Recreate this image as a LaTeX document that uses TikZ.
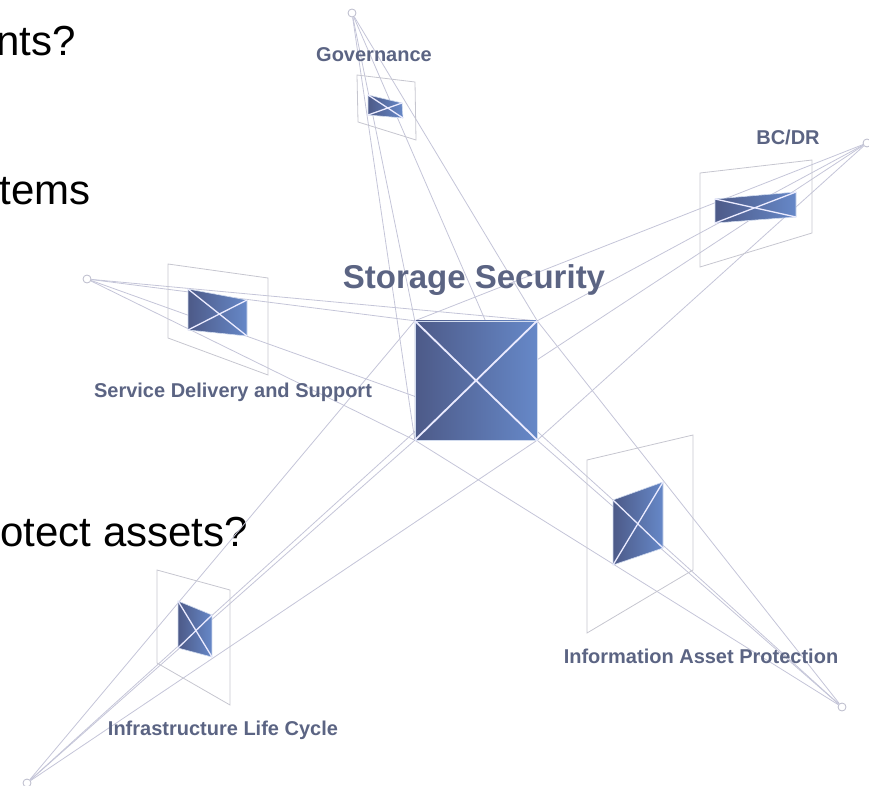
\documentclass[tikz,border=0pt]{standalone}
\usepackage{fontspec}
\setmainfont{Liberation Sans}
\usepackage{xcolor}
\usepackage{tikz}

\definecolor{labelgray}{HTML}{5B6483}
\definecolor{raygray}{HTML}{C4C5D8}
\definecolor{panegray}{HTML}{C6C6CF}
\definecolor{boxdark}{HTML}{4D5A88}
\definecolor{boxlight}{HTML}{6688C8}

\begin{document}
\begin{tikzpicture}[x=1pt, y=-1pt,
  ray/.style={draw=raygray, line width=0.8pt},
  pane/.style={draw=panegray, line width=0.8pt},
  hub/.style={circle, draw=raygray!85!gray, fill=white, line width=0.8pt,
              minimum size=8pt, inner sep=0pt},
  icon/.style={left color=boxdark, right color=boxlight,
               draw=white!70!boxlight, line width=0.6pt},
  cross/.style={draw=white!92!blue, line width=1.3pt},
  lbl/.style={anchor=base, inner sep=0pt, text=labelgray,
              font=\fontsize{20}{24}\selectfont\bfseries},
  bullet/.style={anchor=base east, inner sep=0pt,
                 font=\fontsize{42}{50}\selectfont}]

\useasboundingbox (0,0) rectangle (869,786);
\clip (0,0) rectangle (869,786);

% Slide text cut at the left edge
\node[bullet] (q1) at (76,56) {nts?};
\node[bullet] (q2) at (91,205) {tems};
\node[bullet] (q3) at (248,546) {otect assets?};

% Vanishing points
\node[hub] (gov)  at (352,13)  {};
\node[hub] (bcdr) at (867,143) {};
\node[hub] (sds)  at (87,279)  {};
\node[hub] (iap)  at (842,707) {};
\node[hub] (ilc)  at (27,783)  {};

% Centre box (drawn later, on top of the rays)
\node[minimum width=122pt, minimum height=119pt, inner sep=0pt] (core) at (476,380.5) {};

% Rays to the corners of the centre box
\foreach \v in {gov,bcdr,sds,iap,ilc}
  \foreach \c in {north west,north east,south west,south east}
    \draw[ray] (\v) -- (core.\c);

% Panes
\draw[pane] (357,75) -- (415,82) -- (416,140) -- (358,122) -- cycle;
\draw[pane] (700,173) -- (812,160) -- (812,233) -- (700,267) -- cycle;
\draw[pane] (168,264) -- (268,278) -- (268,375) -- (168,338) -- cycle;
\draw[pane] (587,460) -- (693,435) -- (693,570) -- (587,633) -- cycle;
\draw[pane] (157,570) -- (230,590) -- (230,705) -- (157,663) -- cycle;

% Small boxes seen in the panes
\shadedraw[icon] (368,95) -- (402,103) -- (403,118) -- (368,115) -- cycle;
\draw[cross] (368,95) -- (403,118) (402,103) -- (368,115);
\shadedraw[icon] (715,199) -- (796,192) -- (796,217) -- (715,223) -- cycle;
\draw[cross] (715,199) -- (796,217) (796,192) -- (715,223);
\shadedraw[icon] (188,289) -- (247,300) -- (247,336) -- (188,330) -- cycle;
\draw[cross] (188,289) -- (247,336) (247,300) -- (188,330);
\shadedraw[icon] (613,500) -- (663,482) -- (663,548) -- (613,565) -- cycle;
\draw[cross] (613,500) -- (663,548) (663,482) -- (613,565);
\shadedraw[icon] (178,601) -- (212,615) -- (212,657) -- (178,648) -- cycle;
\draw[cross] (178,601) -- (212,657) (212,615) -- (178,648);

% Centre box
\shadedraw[icon] (core.north west) rectangle (core.south east);
\draw[cross, line width=1.8pt] (core.north west) -- (core.south east)
      (core.north east) -- (core.south west);

% Labels
\node[lbl] (govl)  at (374,62)  {Governance};
\node[lbl] (bcdrl) at (788,145) {BC/DR};
\node[lbl] (sdsl)  at (233,397) {Service Delivery and Support};
\node[lbl] (iapl)  at (701,663) {Information Asset Protection};
\node[lbl] (ilcl)  at (223,735) {Infrastructure Life Cycle};
\node[lbl, font=\fontsize{33}{40}\selectfont\bfseries] (title) at (474,288)
      {Storage Security};

\end{tikzpicture}
\end{document}
